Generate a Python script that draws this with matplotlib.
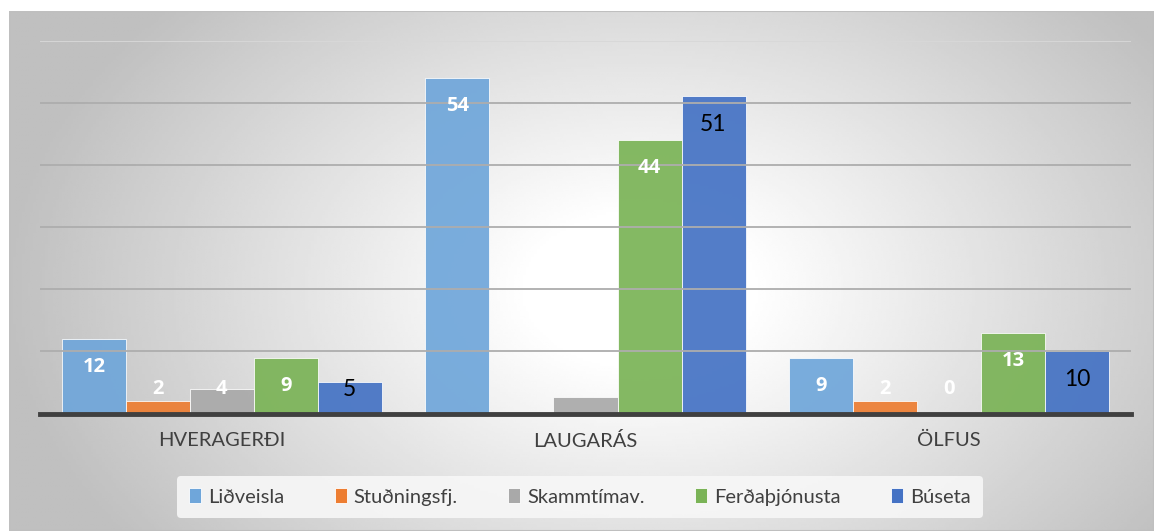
import numpy as np
import matplotlib.pyplot as plt
from matplotlib.patches import Patch, Rectangle

plt.rcParams['font.family'] = ['Lato', 'DejaVu Sans']

# data
places = ['HVERAGERÐI', 'LAUGARÁS', 'ÖLFUS']
series = ['Liðveisla', 'Stuðningsfj.', 'Skammtímav.', 'Ferðaþjónusta', 'Búseta']
values = {
    'Liðveisla': [12, 54, 9],
    'Stuðningsfj.': [2, 0, 2],
    'Skammtímav.': [4, 2.6, 0],
    'Ferðaþjónusta': [9, 44, 13],
    'Búseta': [5, 51, 10],
}
labels = {
    'Liðveisla': ['12', '54', '9'],
    'Stuðningsfj.': ['2', '', '2'],
    'Skammtímav.': ['4', '', '0'],
    'Ferðaþjónusta': ['9', '44', '13'],
    'Búseta': ['5', '51', '10'],
}
colors = ['#6FA6DA', '#ED7D31', '#A9A9A9', '#7AB356', '#4472C4']
label_colors = ['white', 'white', 'white', 'white', 'black']

W, H = 1154, 531
fig = plt.figure(figsize=(W / 100, H / 100), dpi=100)

# chart frame with radial gradient background
bg = fig.add_axes([9 / W, 0, 1 - 9 / W, (H - 11) / H])
bg.set_axis_off()
xx, yy = np.meshgrid(np.linspace(9, W, 400), np.linspace(11, H, 200))
d = np.sqrt(((xx - 640) / 620) ** 2 + ((yy - 290) / 420) ** 2)
shade = np.clip(1.0 - 0.25 * np.clip((d - 0.18) / 0.85, 0, 1), 0, 1)
bg.imshow(shade, cmap='gray', vmin=0, vmax=1, aspect='auto',
          extent=[0, 1, 0, 1], origin='upper')
bg.add_patch(Rectangle((0, 0), 1, 1, transform=bg.transAxes, fill=False,
                       edgecolor='#BFBFBF', lw=1.5))

ax = fig.add_axes([40 / W, (H - 413.5) / H, (1131 - 40) / W, (413.5 - 40.5) / H])
ax.set_facecolor('none')
x = np.arange(len(places))
bw = 0.176
for i, (name, c, lc) in enumerate(zip(series, colors, label_colors)):
    pos = x + (i - 2) * bw
    vals = values[name]
    ax.bar(pos, vals, width=bw, color=c, alpha=0.92, edgecolor='white',
           linewidth=0.6, zorder=2)
    for p, v, t in zip(pos, vals, labels[name]):
        y = max(v - 4.5, 3.9)
        if lc == 'white':
            ax.text(p, y, t, ha='center', va='center', fontsize=14.5,
                    color=lc, fontweight='bold', family=['Open Sans', 'DejaVu Sans'],
                    zorder=4)
        else:
            ax.text(p, y, t, ha='center', va='center', fontsize=16.5,
                    color=lc, zorder=4)

ax.set_ylim(0, 60)
ax.set_xlim(-0.5, 2.5)
ax.set_yticks(np.arange(10, 61, 10))
ax.yaxis.grid(True, color='#ADADAD', lw=1.3, zorder=3)
ax.get_ygridlines()[-1].set_color('#D8D8D8')
ax.set_axisbelow(False)
ax.tick_params(axis='y', left=False, labelleft=False)
ax.tick_params(axis='x', length=0, pad=13, labelsize=14.5, colors='#404040')
ax.set_xticks(x)
ax.set_xticklabels(places)
for s in ['top', 'right', 'left']:
    ax.spines[s].set_visible(False)
ax.spines['bottom'].set_color('#404040')
ax.spines['bottom'].set_linewidth(3.5)
ax.spines['bottom'].set_zorder(5)

handles = [Patch(facecolor=c, edgecolor='white', lw=0.6) for c in colors]
leg = fig.legend(handles, series, ncol=5, loc='center',
                 bbox_to_anchor=(580 / W, 1 - 497 / H), frameon=True,
                 fontsize=14.5, handlelength=0.6, handleheight=0.7,
                 handletextpad=0.35, columnspacing=2.5, borderpad=0.6)
leg.get_frame().set_facecolor('#F7F7F7')
leg.get_frame().set_edgecolor('none')
leg.get_frame().set_alpha(0.9)
for t in leg.get_texts():
    t.set_color('#404040')

fig.savefig('out.png', dpi=100)
